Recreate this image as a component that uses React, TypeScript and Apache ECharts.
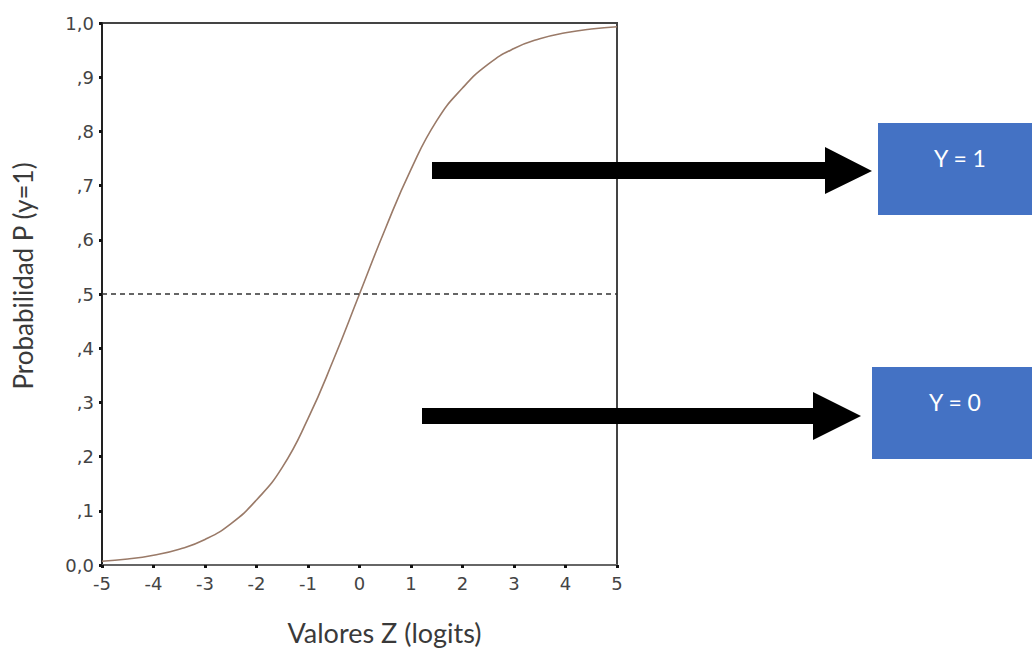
import React, { useEffect, useRef } from "react";
import * as echarts from "echarts";

const zValues = [-5, -4.5, -4, -3.5, -3, -2.5, -2, -1.5, -1, -0.5, 0, 0.5, 1, 1.5, 2, 2.5, 3, 3.5, 4, 4.5, 5];
const pValues = [0.007, 0.011, 0.018, 0.029, 0.047, 0.076, 0.12, 0.18, 0.27, 0.38, 0.5, 0.62, 0.73, 0.82, 0.88, 0.924, 0.953, 0.971, 0.982, 0.989, 0.993];
const yTickLabels = ["0,0", ",1", ",2", ",3", ",4", ",5", ",6", ",7", ",8", ",9", "1,0"];
const thresholdValue = 0.5;
const boxLabels = ["Y = 1", "Y = 0"];
const xAxisTitle = "Valores Z (logits)";
const yAxisTitle = "Probabilidad P (y=1)";

export default function App() {
  const ref = useRef<HTMLDivElement>(null);
  useEffect(() => {
    document.body.style.margin = "0";
    const chart = echarts.init(ref.current!, undefined, { renderer: "svg" });
    const tickFont = { fontFamily: "DejaVu Sans, sans-serif", fontSize: 18, color: "#444" };
    chart.setOption({
      animation: false,
      backgroundColor: "#ffffff",
      grid: {
        left: 102, right: 415, top: 23, bottom: 83,
        outerBoundsMode: "none", containLabel: false,
        show: true, borderColor: "#444", borderWidth: 2, backgroundColor: "transparent",
      },
      xAxis: {
        type: "value",
        min: -5,
        max: 5,
        interval: 1,
        splitLine: { show: false },
        axisLine: { show: true, onZero: false, lineStyle: { color: "#666", width: 2 } },
        axisTick: { show: true, inside: false, length: 3, lineStyle: { color: "#111", width: 3 } },
        axisLabel: { ...tickFont, margin: 9 },
        name: xAxisTitle,
        nameLocation: "middle",
        nameGap: 54,
        nameTextStyle: { fontFamily: "Lato, sans-serif", fontSize: 27, color: "#3a3a3a", padding: [0, 0, 0, 50] },
      },
      yAxis: {
        type: "value",
        min: 0,
        max: 1,
        interval: 0.1,
        splitLine: { show: false },
        axisLine: { show: true, onZero: false, lineStyle: { color: "#222", width: 2 } },
        axisTick: { show: true, inside: false, length: 3, lineStyle: { color: "#111", width: 3 } },
        axisLabel: {
          ...tickFont,
          margin: 8,
          formatter: (v: number) => yTickLabels[Math.round(v * 10)] ?? "",
        },
        name: yAxisTitle,
        nameLocation: "middle",
        nameGap: 66,
        nameTextStyle: { fontFamily: "Lato, sans-serif", fontSize: 26, color: "#3a3a3a", padding: [0, 0, 0, 36] },
      },
      series: [
        {
          type: "line",
          data: zValues.map((z, i) => [z, pValues[i]]),
          smooth: true,
          symbol: "none",
          lineStyle: { color: "#9a7a68", width: 1.6 },
          markLine: {
            silent: true,
            symbol: "none",
            label: { show: false },
            lineStyle: { color: "#333", width: 1.5, type: [5, 4] },
            data: [{ yAxis: thresholdValue }],
          },
        },
      ],
      graphic: [
        { type: "polygon", shape: { points: [[432, 162], [825, 162], [825, 147], [872, 171], [825, 194], [825, 179], [432, 179]] }, style: { fill: "#000" } },
        { type: "polygon", shape: { points: [[422, 408], [813, 408], [813, 392], [861, 416], [813, 440], [813, 424], [422, 424]] }, style: { fill: "#000" } },
        { type: "rect", shape: { x: 878, y: 123, width: 154, height: 92 }, style: { fill: "#4472c4" } },
        { type: "rect", shape: { x: 872, y: 367, width: 160, height: 92 }, style: { fill: "#4472c4" } },
        { type: "text", x: 960, y: 158, style: { text: boxLabels[0], fill: "#fff", fontFamily: "Lato, sans-serif", fontSize: 23, align: "center", verticalAlign: "middle" } },
        { type: "text", x: 955, y: 402, style: { text: boxLabels[1], fill: "#fff", fontFamily: "Lato, sans-serif", fontSize: 23, align: "center", verticalAlign: "middle" } },
      ],
    });
    return () => chart.dispose();
  }, []);
  return <div ref={ref} style={{ width: 1032, height: 648 }} />;
}
